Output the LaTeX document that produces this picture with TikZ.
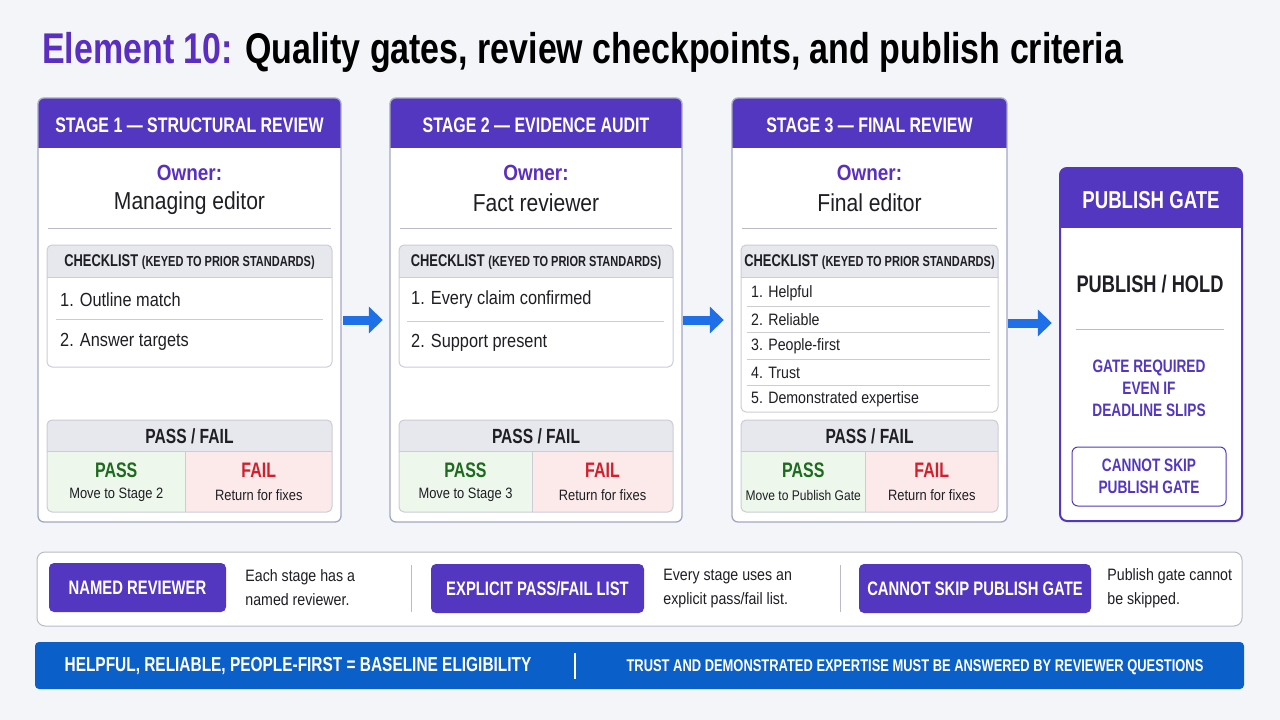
\documentclass[tikz,border=0pt]{standalone}
\usepackage{fontspec}
\setmainfont{Liberation Sans}[FakeStretch=0.86]
\newfontfamily\headfont{Liberation Sans}[FakeStretch=0.76]
\newfontfamily\titlefont{Liberation Sans}[FakeStretch=0.79]
\usepackage{tikz}
\usetikzlibrary{arrows.meta,positioning}

\definecolor{pagebg}{HTML}{F4F5F8}
\definecolor{titlepurple}{HTML}{5B2EC2}
\definecolor{gatepurple}{HTML}{5437C0}
\definecolor{rimgray}{HTML}{A3A6C4}
\definecolor{panelgray}{HTML}{CBCDD5}
\definecolor{headgray}{HTML}{E7E8ED}
\definecolor{sepgray}{HTML}{B9BBC6}
\definecolor{darktext}{HTML}{1E1E24}
\definecolor{passfill}{HTML}{EDF7EB}
\definecolor{passtext}{HTML}{1E6A1E}
\definecolor{failfill}{HTML}{FCEAEA}
\definecolor{failtext}{HTML}{D21F2B}
\definecolor{flowblue}{HTML}{1E6FE8}
\definecolor{barblue}{HTML}{0B5FC9}

\begin{document}
\begin{tikzpicture}[x=1pt, y=-1pt, text=darktext,
    cardbox/.style={fill=white, rounded corners=6pt, inner sep=0pt},
    cardrim/.style={draw=rimgray, line width=1.3pt, rounded corners=6pt},
    gaterim/.style={draw=gatepurple, line width=2pt, rounded corners=7pt},
    hdrlabel/.style={text=white, font=\headfont\bfseries\fontsize{21}{24}\selectfont, inner sep=0pt},
    ownerlbl/.style={text=titlepurple, font=\bfseries\fontsize{22}{24}\selectfont, inner sep=0pt},
    ownername/.style={font=\fontsize{24.5}{26}\selectfont, inner sep=0pt},
    sepline/.style={draw=sepgray, line width=1pt},
    panelrim/.style={draw=panelgray, line width=1pt, rounded corners=5pt},
    chkhead/.style={font=\headfont\bfseries\fontsize{17}{18}\selectfont, inner sep=0pt},
    item/.style={anchor=west, font=\fontsize{19}{22}\selectfont, inner sep=0pt},
    smallitem/.style={item, font=\fontsize{16.5}{20}\selectfont},
    pfhead/.style={font=\headfont\bfseries\fontsize{20.5}{22}\selectfont, inner sep=0pt},
    passlbl/.style={text=passtext, font=\headfont\bfseries\fontsize{21}{22}\selectfont, inner sep=0pt},
    faillbl/.style={text=failtext, font=\headfont\bfseries\fontsize{21}{22}\selectfont, inner sep=0pt},
    pfnote/.style={font=\fontsize{15}{18}\selectfont, inner sep=0pt},
    flow/.style={draw=flowblue, line width=9pt, -{Triangle[length=14pt,width=26pt]}},
    gatehead/.style={text=white, font=\headfont\bfseries\fontsize{24.5}{26}\selectfont, inner sep=0pt},
    decision/.style={font=\headfont\bfseries\fontsize{24}{26}\selectfont, inner sep=0pt},
    gatenote/.style={text=gatepurple, align=center, font=\headfont\bfseries\fontsize{18}{22}\selectfont, inner sep=0pt},
    skipbox/.style={draw=gatepurple, line width=1pt, rounded corners=6pt, text=gatepurple, align=center,
      font=\headfont\bfseries\fontsize{18}{22}\selectfont, minimum width=154, minimum height=59, inner sep=0pt},
    strip/.style={draw=sepgray, line width=1pt, fill=white, rounded corners=8pt, inner sep=0pt},
    badge/.style={fill=gatepurple, rounded corners=5pt, text=white, minimum height=49, inner sep=0pt,
      font=\headfont\bfseries\fontsize{19.5}{20}\selectfont},
    note/.style={anchor=west, align=left, font=\fontsize{16.5}{24}\selectfont, inner sep=0pt},
    bar/.style={fill=barblue, rounded corners=4pt, inner sep=0pt},
    bartext/.style={text=white, font=\headfont\bfseries\fontsize{20.3}{22}\selectfont, inner sep=0pt},
  ]
  \fill[pagebg] (0,0) rectangle (1280,720);
  \useasboundingbox (0,0) rectangle (1280,720);

  % title
  \node[anchor=base west, inner sep=0pt, font=\titlefont\bfseries\fontsize{43}{46}\selectfont, text=black] (title) at (42,63)
    {\textcolor{titlepurple}{Element 10:} Quality gates, review checkpoints, and publish criteria};

  % the three review stages
  \foreach \id/\xa/\xb/\cb/\ttl/\own/\nxt in {
      1/38/341/367/{STAGE 1 — STRUCTURAL REVIEW}/{Managing editor}/{Move to Stage 2},
      2/390/682/367/{STAGE 2 — EVIDENCE AUDIT}/{Fact reviewer}/{Move to Stage 3},
      3/732/1007/412/{STAGE 3 — FINAL REVIEW}/{Final editor}/{{\fontsize{14}{16}\selectfont Move to Publish Gate}}}{
    \pgfmathsetmacro\xm{(\xa+\xb)/2}
    \pgfmathsetmacro\xs{\xm-4}
    \node[cardbox, minimum width=\xb-\xa, minimum height=424] (s\id) at (\xm,310) {};
    \begin{scope}
      \clip[rounded corners=6pt] (\xa,98) rectangle (\xb,522);
      \fill[gatepurple] (\xa,98) rectangle (\xb,148);
    \end{scope}
    \draw[cardrim] (\xa,98) rectangle (\xb,522);
    \node[hdrlabel] (h\id) at (\xm,125) {\ttl};
    \node[ownerlbl] (o\id) at (\xm,173) {Owner:};
    \node[ownername] (n\id) at (\xm,203) {\own};
    \draw[sepline] (\xa+10,228) -- (\xb-10,228);
    % checklist panel
    \begin{scope}
      \clip[rounded corners=5pt] (\xa+9,245) rectangle (\xb-9,\cb);
      \fill[headgray] (\xa+9,245) rectangle (\xb-9,277);
    \end{scope}
    \draw[panelrim] (\xa+9,245) rectangle (\xb-9,\cb);
    \draw[panelgray, line width=1pt] (\xa+9,277) -- (\xb-9,277);
    \node[chkhead] (c\id) at (\xm,262) {CHECKLIST {\fontsize{14.5}{16}\selectfont (KEYED TO PRIOR STANDARDS)}};
    % pass / fail panel
    \begin{scope}
      \clip[rounded corners=5pt] (\xa+9,420) rectangle (\xb-9,512);
      \fill[headgray] (\xa+9,420) rectangle (\xb-9,451);
      \fill[passfill] (\xa+9,451) rectangle (\xs,512);
      \fill[failfill] (\xs,451) rectangle (\xb-9,512);
    \end{scope}
    \draw[panelrim] (\xa+9,420) rectangle (\xb-9,512);
    \draw[panelgray, line width=1pt] (\xa+9,451) -- (\xb-9,451) (\xs,451) -- (\xs,512);
    \node[pfhead] (p\id) at (\xm,436) {PASS / FAIL};
    \node[passlbl] (pa\id) at ({(\xa+9+\xs)/2},470) {PASS};
    \node[pfnote] (pn\id) at ({(\xa+9+\xs)/2},495) {\nxt};
    \node[faillbl] (fa\id) at ({(\xs+\xb-9)/2},470) {FAIL};
    \node[pfnote] (fn\id) at ({(\xs+\xb-9)/2},495) {Return for fixes};
  }

  % checklist items
  \node[item] (i11) at (60,300) {1. Outline match};
  \draw[sepline, draw=panelgray] (56,319) -- (323,319);
  \node[item] (i12) at (60,342) {2. Answer targets};
  \node[item] (i21) at (411,300) {1. Every claim confirmed};
  \draw[sepline, draw=panelgray] (407,321) -- (664,321);
  \node[item] (i22) at (411,343) {2. Support present};
  \foreach \t [count=\k] in {Helpful, Reliable, People-first, Trust, Demonstrated expertise}
    \node[smallitem] (i3\k) at (751,{293+26.5*(\k-1)}) {\k. \t};
  \foreach \k in {1,...,4}
    \draw[sepline, draw=panelgray] (747,{279.75+26.5*\k}) -- (990,{279.75+26.5*\k});

  % publish gate
  \node[cardbox, minimum width=182, minimum height=353] (gate) at (1151,344.5) {};
  \begin{scope}
    \clip[rounded corners=7pt] (1060,168) rectangle (1242,521);
    \fill[gatepurple] (1060,168) rectangle (1242,228);
  \end{scope}
  \draw[gaterim] (1060,168) rectangle (1242,521);
  \node[gatehead] (gh) at (1151,200) {PUBLISH GATE};
  \node[decision] (ph) at (1150,284) {PUBLISH / HOLD};
  \draw[sepline] (1076,329) -- (1224,329);
  \node[gatenote] (gn) at (1149,388) {GATE REQUIRED\\EVEN IF\\DEADLINE SLIPS};
  \node[skipbox] (sk) at (1149,476.5) {CANNOT SKIP\\PUBLISH GATE};

  % flow arrows
  \draw[flow, shorten <=2pt, shorten >=7pt] ([yshift=-10pt]s1.east) -- ([yshift=-10pt]s2.west);
  \draw[flow, shorten <=1pt, shorten >=8pt] ([yshift=-10pt]s2.east) -- ([yshift=-10pt]s3.west);
  \draw[flow, shorten <=1pt, shorten >=8pt] ([yshift=-13pt]s3.east) -- ([yshift=-13pt]s3.east -| gate.west);

  % rules strip
  \node[strip, minimum width=1205, minimum height=74] (legend) at (639.5,589) {};
  \node[badge, minimum width=177] (b1) at (137.5,587.5) {NAMED REVIEWER};
  \node[note, right=19pt of b1] (d1) {Each stage has a\\named reviewer.};
  \draw[sepline] (411,565) -- (411,612);
  \node[badge, minimum width=213] (b2) at (537.5,588.5) {EXPLICIT PASS/FAIL LIST};
  \node[note, right=19pt of b2] (d2) {Every stage uses an\\explicit pass/fail list.};
  \draw[sepline] (840,565) -- (840,612);
  \node[badge, minimum width=232] (b3) at (975,588.5) {CANNOT SKIP PUBLISH GATE};
  \node[note, right=16pt of b3] (d3) {Publish gate cannot\\be skipped.};

  % baseline bar
  \node[bar, minimum width=1209, minimum height=47] (base) at (639.5,665.5) {};
  \node[bartext] (bl) at (298,666) {HELPFUL, RELIABLE, PEOPLE-FIRST = BASELINE ELIGIBILITY};
  \draw[white, line width=1.2pt] (575,653) -- (575,679);
  \node[bartext, font=\headfont\bfseries\fontsize{17}{18}\selectfont] (br) at (915,667)
    {TRUST AND DEMONSTRATED EXPERTISE MUST BE ANSWERED BY REVIEWER QUESTIONS};
\end{tikzpicture}
\end{document}
